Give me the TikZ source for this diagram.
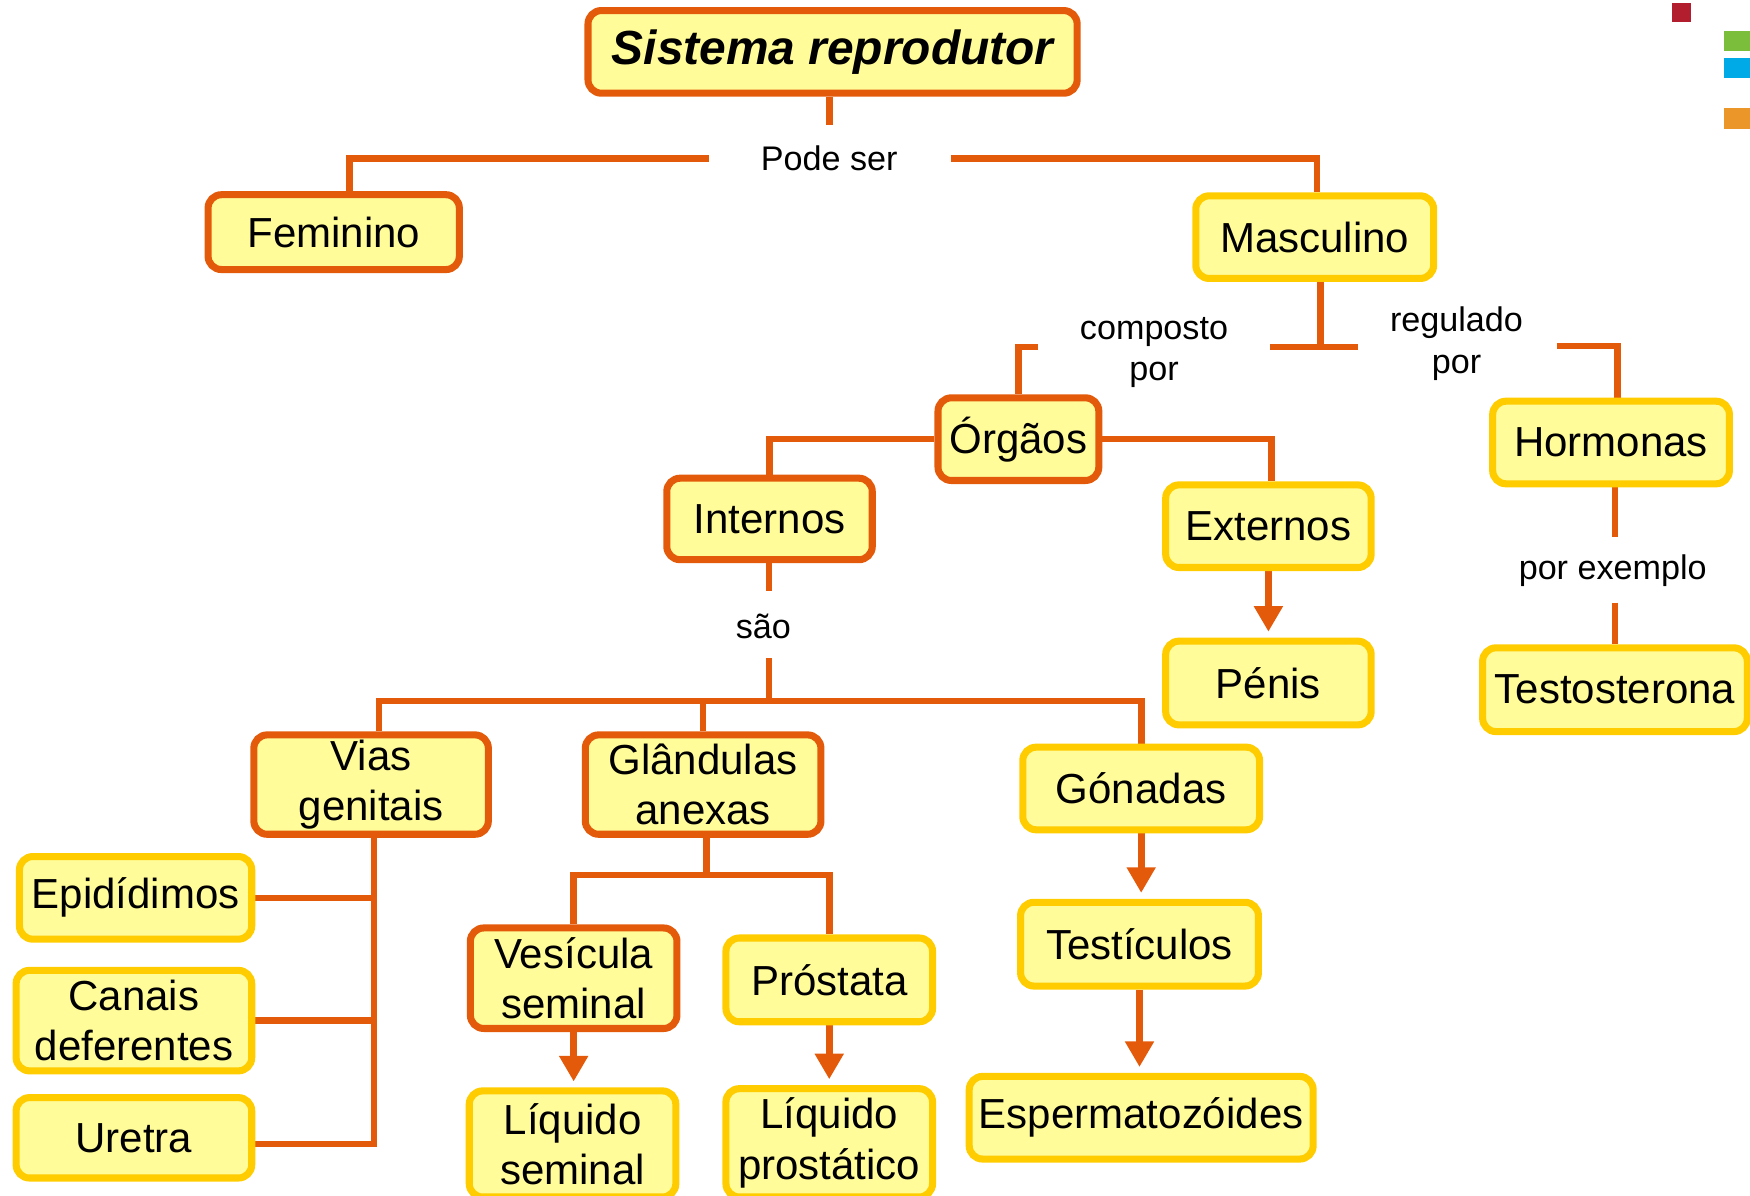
\documentclass[tikz,border=0pt]{standalone}
\usepackage{fontspec}
\setmainfont{Liberation Sans}
\usetikzlibrary{arrows.meta,calc,backgrounds}
\definecolor{corange}{RGB}{227,91,10}
\definecolor{cyellow}{RGB}{255,204,0}
\definecolor{cfill}{RGB}{255,252,153}
\definecolor{sqred}{RGB}{178,30,45}
\definecolor{sqgreen}{RGB}{122,190,60}
\definecolor{sqblue}{RGB}{0,170,230}
\definecolor{sqorange}{RGB}{235,150,40}
\begin{document}
\begin{tikzpicture}[x=0.01cm,y=-0.01cm,
 box/.style={rounded corners=3.4pt, fill=cfill, line width=1.8pt, inner sep=0pt, align=center, font=\fontsize{10.7}{12.8}\selectfont},
 obox/.style={box, draw=corange},
 ybox/.style={box, draw=cyellow},
 conn/.style={draw=corange, line width=1.7pt},
 arr/.style={conn, -{Triangle[length=6.5pt,width=7pt]}, shorten >=1.5pt},
 lbl/.style={font=\fontsize{8.7}{10.5}\selectfont, align=center, inner sep=0pt}
]
\useasboundingbox (0,0) rectangle (1568,1071);
\clip (0,0) rectangle (1568,1071);

% boxes
\node[obox, minimum width=4.38cm, minimum height=0.74cm, font=\fontsize{12.2}{14}\selectfont\bfseries\itshape] (title) at (746,46.5) {Sistema reprodutor};
\node[obox, minimum width=2.25cm, minimum height=0.67cm] (fem) at (299,208) {Feminino};
\node[ybox, minimum width=2.13cm, minimum height=0.74cm] (masc) at (1178,212.5) {Masculino};
\node[obox, minimum width=1.44cm, minimum height=0.74cm] (org) at (912.5,393.5) {Órgãos};
\node[ybox, minimum width=2.12cm, minimum height=0.74cm] (horm) at (1443.5,396.5) {Hormonas};
\node[obox, minimum width=1.84cm, minimum height=0.73cm] (int) at (689.5,465) {Internos};
\node[ybox, minimum width=1.84cm, minimum height=0.74cm] (ext) at (1136.5,471.5) {Externos};
\node[ybox, minimum width=1.84cm, minimum height=0.75cm] (pen) at (1136.5,612) {Pénis};
\node[ybox, minimum width=2.37cm, minimum height=0.75cm] (test) at (1447,618) {Testosterona};
\node[obox, minimum width=2.10cm, minimum height=0.89cm] (vias) at (332.5,703) {Vias\\genitais};
\node[obox, minimum width=2.11cm, minimum height=0.89cm] (gland) at (630,703) {Glândulas\\anexas};
\node[ybox, minimum width=2.12cm, minimum height=0.74cm] (gon) at (1022.5,706.5) {Gónadas};
\node[ybox, minimum width=2.08cm, minimum height=0.74cm] (epi) at (121.5,804.5) {Epidídimos};
\node[ybox, minimum width=2.11cm, minimum height=0.90cm] (can) at (120,914.5) {Canais\\deferentes};
\node[ybox, minimum width=2.11cm, minimum height=0.72cm] (ure) at (120,1019.5) {Uretra};
\node[obox, minimum width=1.85cm, minimum height=0.90cm] (ves) at (514,876.5) {Vesícula\\seminal};
\node[ybox, minimum width=1.85cm, minimum height=0.75cm] (pros) at (743,878) {Próstata};
\node[ybox, minimum width=1.85cm, minimum height=0.95cm] (lsem) at (513,1025) {Líquido\\seminal};
\node[ybox, minimum width=1.85cm, minimum height=0.97cm] (lpros) at (743,1024) {Líquido\\prostático};
\node[ybox, minimum width=2.13cm, minimum height=0.75cm] (testi) at (1021,846) {Testículos};
\node[ybox, minimum width=3.08cm, minimum height=0.74cm] (esp) at (1022.5,1001.5) {Espermatozóides};

% labels
\node[lbl] (pode) at (743,142) {Pode ser};
\node[lbl] (comp) at (1034,316) {composto\\por};
\node[lbl] (reg) at (1305,308) {regulado\\por};
\node[lbl] (pex) at (1445,511) {por exemplo};
\node[lbl] (sao) at (684,561) {são};

% coordinates
\coordinate (t1) at (743,112);
\coordinate (pl) at (635,142);
\coordinate (pr) at (852,142);
\coordinate (tbl) at (1138,311);
\coordinate (tbr) at (1217,311);
\coordinate (ms) at (1183,250);
\coordinate (cl) at (930,311);
\coordinate (rr) at (1395,310);
\coordinate (h1) at (1447,481);
\coordinate (h2) at (1447,540);
\coordinate (s1) at (689,530);
\coordinate (s2) at (689,590);
\coordinate (hb) at (689,628);
\coordinate (vb) at (335,1025);
\coordinate (hg) at (633,784);

\begin{scope}[on background layer]
\draw[conn] (title.south -| t1) -- (t1);
\draw[conn] (pl) -| ($(fem.north)+(14,0)$);
\draw[conn] (pr) -| ($(masc.north)+(2,0)$);
\draw[conn] (ms) -- (ms |- tbl);
\draw[conn] (tbl) -- (tbr);
\draw[conn] (cl) -| (org.north);
\draw[conn] (rr) -| ($(horm.north)+(6,0)$);
\draw[conn] (org.west) -| (int.north);
\draw[conn] (org.east) -| ($(ext.north)+(3,0)$);
\draw[arr] (ext.south) -- (pen.north);
\draw[conn] (horm.south -| test.north) -- (h1);
\draw[conn] (h2) -- (test.north);
\draw[conn] (int.south -| s1) -- (s1);
\draw[conn] (s2) -- (hb);
\draw[conn] ($(vias.north)+(7,0)$) |- (gon.north |- hb) -- (gon.north);
\draw[conn] (gland.north) -- (gland.north |- hb);
\draw[conn] (vias.south -| vb) -- (vb) -- (ure.east |- vb);
\draw[conn] (epi.east) -- (epi.east -| vb);
\draw[conn] ($(can.east)+(-10,0)$) -- (can.east -| vb);
\draw[conn] (gland.south -| hg) -- (hg);
\draw[conn] (ves.north) |- (hg) -| (pros.north);
\draw[arr] (ves.south) -- (lsem.north -| ves.south);
\draw[arr] (pros.south) -- (lpros.north);
\draw[arr] (gon.south) -- (testi.north -| gon.south);
\draw[arr] (testi.south) -- (esp.north -| testi.south);
\end{scope}

% colour squares
\fill[sqred] (1498,3) rectangle (1515,20);
\fill[sqgreen] (1545,28) rectangle (1568,46);
\fill[sqblue] (1545,52) rectangle (1568,70);
\fill[sqorange] (1545,97) rectangle (1568,116);
\end{tikzpicture}
\end{document}
